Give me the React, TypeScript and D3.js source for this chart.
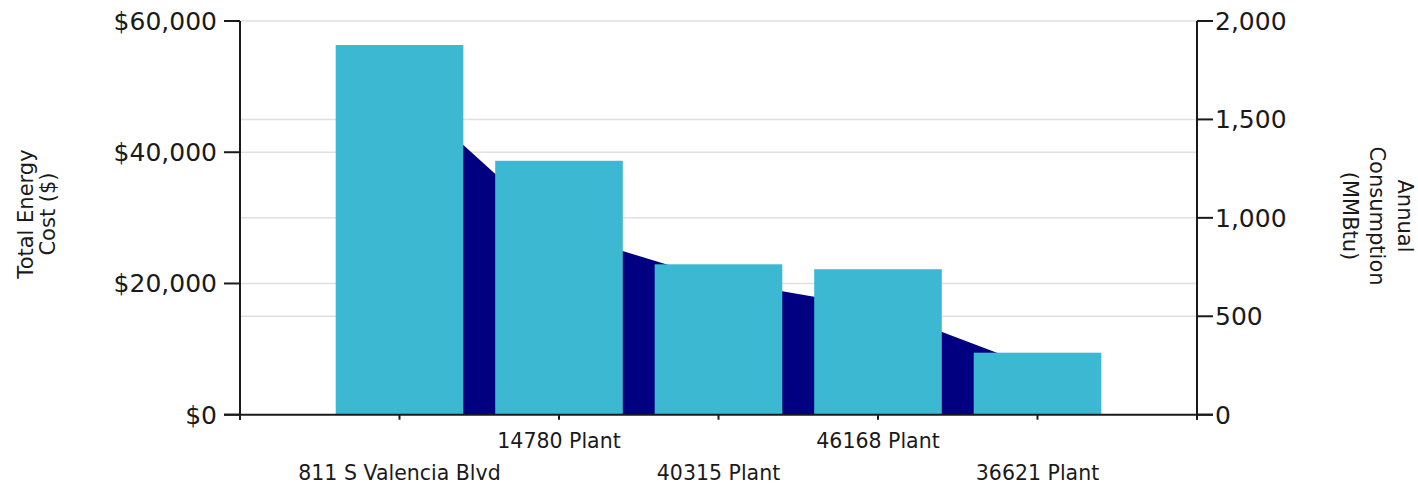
import * as d3 from "d3";

// sites, left-to-right
const sites = ["811 S Valencia Blvd", "14780 Plant", "40315 Plant", "46168 Plant", "36621 Plant"];
// total energy cost ($), drawn as the navy area on the left axis
const energyCost = [49900, 27900, 20500, 16300, 7100];
// annual consumption (MMBtu), drawn as bars on the right axis
const consumption = [1878, 1290, 764, 739, 315];

const costTicks = [0, 20000, 40000, 60000];
const consTicks = [0, 500, 1000, 1500, 2000];

const W = 1418;
const H = 488;
const margin = { left: 240, right: 221, top: 21, bottom: 73.3 };
const FONT = "'DejaVu Sans', Verdana, sans-serif";

const App = () => {
  const x0 = margin.left;
  const x1 = W - margin.right;
  const yTop = margin.top;
  const yBot = H - margin.bottom;

  // categories sit on 1..5 of a 0..6 axis
  const x = d3.scaleLinear().domain([0, sites.length + 1]).range([x0, x1]);
  const yCost = d3.scaleLinear().domain([0, 60000]).range([yBot, yTop]);
  const yCons = d3.scaleLinear().domain([0, 2000]).range([yBot, yTop]);
  const step = x(1) - x(0);
  const barW = step * 0.8;

  const area = d3
    .area<number>()
    .x((_, i) => x(i + 1))
    .y0(yCost(0))
    .y1((d) => yCost(d));

  const fmtCost = (v: number) => "$" + d3.format(",")(v);
  const fmtCons = d3.format(",");
  const axisTicks = d3.range(0, sites.length + 2);

  return (
    <svg
      width={W}
      height={H}
      style={{ position: "absolute", left: 0, top: 0, background: "#fff" }}
      fontFamily={FONT}
    >
      {/* gridlines */}
      <g stroke="#e0e0e0" strokeWidth={1.5}>
        {costTicks.filter((t) => t > 0).map((t) => (
          <line key={"gc" + t} x1={x0} x2={x1} y1={yCost(t)} y2={yCost(t)} />
        ))}
        {consTicks.filter((t) => t > 0 && t < 2000).map((t) => (
          <line key={"gr" + t} x1={x0} x2={x1} y1={yCons(t)} y2={yCons(t)} />
        ))}
      </g>

      <path d={area(energyCost) || ""} fill="#000080" />

      {consumption.map((v, i) => (
        <rect
          key={sites[i]}
          x={x(i + 1) - barW / 2}
          y={yCons(v)}
          width={barW}
          height={yCons(0) - yCons(v)}
          fill="#3db8d2"
        />
      ))}

      {/* axes */}
      <g stroke="#1a1a1a" strokeWidth={2} fill="none">
        <line x1={x0} x2={x0} y1={yTop} y2={yBot + 5} />
        <line x1={x1} x2={x1} y1={yTop} y2={yBot + 5} />
        <line x1={x0 - 16} x2={x1 + 16} y1={yBot} y2={yBot} />
        {costTicks.map((t) => (
          <line key={"lt" + t} x1={x0 - 16} x2={x0} y1={yCost(t)} y2={yCost(t)} />
        ))}
        {consTicks.map((t) => (
          <line key={"rt" + t} x1={x1} x2={x1 + 16} y1={yCons(t)} y2={yCons(t)} />
        ))}
        {axisTicks.map((t) => (
          <line key={"bt" + t} x1={x(t)} x2={x(t)} y1={yBot} y2={yBot + 5} />
        ))}
      </g>

      <g fontSize={25} fill="#1a1a1a">
        {costTicks.map((t) => (
          <text key={"ll" + t} x={x0 - 23} y={yCost(t)} dy="0.36em" textAnchor="end">
            {fmtCost(t)}
          </text>
        ))}
        {consTicks.map((t) => (
          <text key={"rl" + t} x={x1 + 18} y={yCons(t)} dy="0.36em" textAnchor="start">
            {fmtCons(t)}
          </text>
        ))}
      </g>

      <g fontSize={20.5} fill="#1a1a1a" textAnchor="middle">
        {sites.map((s, i) => (
          <text key={s} x={x(i + 1)} y={i % 2 === 1 ? 448 : 480}>
            {s}
          </text>
        ))}
      </g>

      <g fontSize={21} fill="#1a1a1a" textAnchor="middle">
        <text transform="translate(33,214) rotate(-90)">
          <tspan x={0} dy={0}>Total Energy</tspan>
          <tspan x={0} dy={22}>Cost ($)</tspan>
        </text>
        <text transform="translate(1398,216) rotate(90)">
          <tspan x={0} dy={0}>Annual</tspan>
          <tspan x={0} dy={28}>Consumption</tspan>
          <tspan x={0} dy={27}>(MMBtu)</tspan>
        </text>
      </g>
    </svg>
  );
};

export default App;
